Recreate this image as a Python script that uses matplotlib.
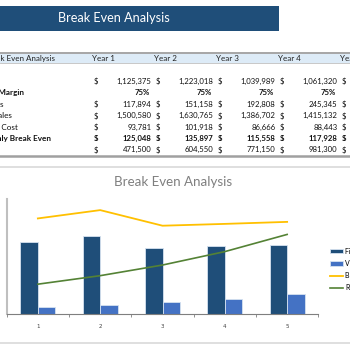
import matplotlib
matplotlib.use('Agg')
import matplotlib.pyplot as plt
from matplotlib.patches import Rectangle
from matplotlib.lines import Line2D

# table / chart data
years = ['Year 1', 'Year 2', 'Year 3', 'Year 4', 'Year 5']
row_labels = ['Fixed Costs', 'Contribution Margin', 'Variable Costs', 'Break Even Sales',
              'Monthly Fixed Cost', 'Monthly Break Even', 'Revenue']
fixed_costs = [1125375, 1223018, 1039989, 1061320, 1084950]
margin = [0.75, 0.75, 0.75, 0.75, 0.75]
variable_costs = [117894, 151158, 192808, 245345, 312640]
break_even_sales = [1500580, 1630765, 1386702, 1415132, 1446600]
monthly_cost = [93781, 101918, 86666, 88443, 90413]
monthly_break_even = [125048, 135897, 115558, 117928, 120550]
revenue = [471500, 604550, 771150, 981300, 1250000]
categories = [1, 2, 3, 4, 5]
legend_labels = ['Fixed Costs', 'Variable Costs', 'Break Even Sales', 'Revenue']

W, H = 350, 350
FONT = 'Lato'
DARK = '#1F4E79'
LIGHT = '#4472C4'

fig = plt.figure(figsize=(W / 100, H / 100), dpi=100)
fig.patch.set_facecolor('white')


def fx(x):
    return x / W


def fy(y):
    return 1 - y / H


def hline(y, x0, x1, color, lw):
    fig.add_artist(Line2D([fx(x0), fx(x1)], [fy(y), fy(y)], transform=fig.transFigure,
                          color=color, lw=lw))


def box(x0, y0, x1, y1, color):
    fig.add_artist(Rectangle((fx(x0), fy(y1)), fx(x1) - fx(x0), fy(y0) - fy(y1),
                             transform=fig.transFigure, facecolor=color, edgecolor='none'))


# banner
box(0, 6, 279, 31, DARK)
fig.text(fx(114), fy(18.5), 'Break Even Analysis', color='white', fontsize=9.1,
         family=FONT, ha='center', va='center')

# table header
box(0, 53, W, 63, '#DDEBF7')
hline(53, 0, W, '#A6A6A6', 1.4)
hline(63, 0, W, '#BFBFBF', 0.6)
fig.text(fx(55), fy(58.5), 'Break Even Analysis', fontsize=5.8, family=FONT,
         ha='right', va='center', color='#222222')
col0, colw = 92, 62
for i, yr in enumerate(years):
    fig.text(fx(col0 + colw * i), fy(58.5), yr, fontsize=5.8, family=FONT,
             ha='left', va='center', color='#222222')

rows = [fixed_costs, margin, variable_costs, break_even_sales,
        monthly_cost, monthly_break_even, revenue]
row_y = [81.7, 92.9, 104.5, 115.9, 127.3, 138.5, 149.8]
label_end = [-4, 24.5, 4, 11.7, 18, 50.7, -4]
bold_rows = [1, 5]
for r, vals in enumerate(rows):
    weight = 'bold' if r in bold_rows else 'normal'
    y = fy(row_y[r])
    fig.text(fx(label_end[r]), y, row_labels[r], fontsize=5.9, family=FONT,
             weight=weight, ha='right', va='center', color='#111111')
    for i, v in enumerate(vals):
        left = col0 + colw * i
        if r == 1:
            fig.text(fx(left + 58), y, f'{v:.0%}', fontsize=5.6, family=FONT,
                     weight='bold', ha='right', va='center', color='#111111')
        else:
            fig.text(fx(left + 4), y, '$', fontsize=5.6, family=FONT, weight=weight,
                     ha='center', va='center', color='#111111')
            fig.text(fx(left + 59.5), y, f'{v:,}', fontsize=5.6, family=FONT,
                     weight=weight, ha='right', va='center', color='#111111')
hline(155.5, 0, W, '#A0A0A0', 1.8)

# chart frame
hline(166.7, 0, W, '#D9D9D9', 1.2)
hline(343.3, 0, W, '#D9D9D9', 1.2)
fig.text(fx(173), fy(181.5), 'Break Even Analysis', color='#7F7F7F', fontsize=9.6,
         family=FONT, ha='center', va='center')

ax = fig.add_axes([fx(6.7), fy(314.3), fx(318.3) - fx(6.7), fy(199.3) - fy(314.3)])
bw = 0.28
b1 = ax.bar([c - bw / 2 for c in categories], fixed_costs, bw, color=DARK,
            edgecolor='#D6E2F0', lw=0.6, label=legend_labels[0])
b2 = ax.bar([c + bw / 2 for c in categories], variable_costs, bw, color=LIGHT,
            edgecolor='#D6E2F0', lw=0.6, label=legend_labels[1])
l1, = ax.plot(categories, break_even_sales, color='#FFC000', lw=1.3, label=legend_labels[2])
l2, = ax.plot(categories, revenue, color='#548235', lw=1.2, label=legend_labels[3])
ax.set_xlim(0.5, 5.5)
ax.set_ylim(0, 1800000)
ax.set_yticks([])
ax.set_xticks([0.5, 1.5, 2.5, 3.5, 4.5, 5.5])
ax.set_xticklabels([])
ax.set_xticks(categories, minor=True)
ax.set_xticklabels([str(c) for c in categories], minor=True)
ax.tick_params(axis='x', which='major', length=2, width=0.6, color='#7F7F7F')
ax.tick_params(axis='x', which='minor', length=0, labelsize=4, labelcolor='#404040', pad=7)
for s in ['top', 'right']:
    ax.spines[s].set_visible(False)
ax.spines['left'].set_color('#BFBFBF')
ax.spines['left'].set_linewidth(1.5)
ax.spines['bottom'].set_color('#7F7F7F')
ax.spines['bottom'].set_linewidth(0.8)
ax.patch.set_alpha(0)

ax.legend(handles=[b1, b2, l1, l2], loc='center left', frameon=False,
          bbox_to_anchor=(fx(330), fy(269.5)), bbox_transform=fig.transFigure,
          prop={'family': FONT, 'size': 5}, handlelength=1.9,
          handleheight=0.6, labelspacing=0.75, handletextpad=0.3, borderpad=0,
          borderaxespad=0)

fig.savefig('out.png', dpi=100)
